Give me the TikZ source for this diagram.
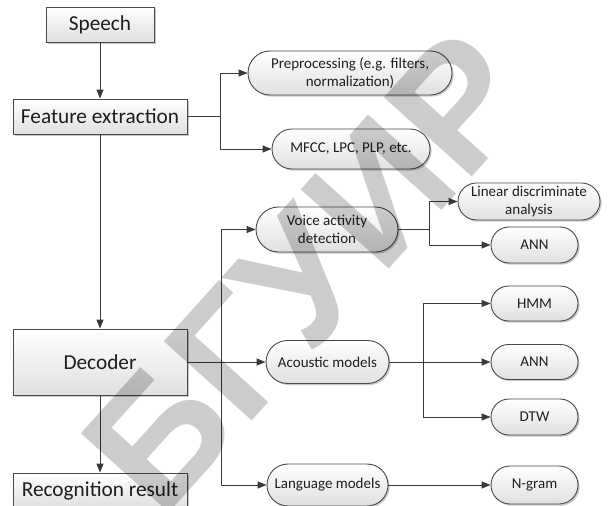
\documentclass[tikz,border=0pt]{standalone}
\usepackage{fontspec}
\setmainfont{Carlito}
\newfontfamily\stampfont{Liberation Sans}
\usetikzlibrary{arrows.meta,shadows,calc,shapes.misc}

\definecolor{edge}{HTML}{4A4A4A}
\definecolor{wire}{HTML}{3A3A3A}
\definecolor{ink}{HTML}{1E1E1E}
\definecolor{boxlow}{HTML}{E0E0E0}

\tikzset{
  softshadow/.style={drop shadow={shadow xshift=1.6pt, shadow yshift=-1.6pt, fill=black, opacity=0.22}},
  stage/.style={rectangle, draw=edge, line width=0.9pt, top color=white, bottom color=boxlow,
    text=ink, font=\fontsize{21.3}{25}\selectfont, inner sep=0pt, softshadow},
  pill/.style={rounded rectangle, rounded rectangle arc length=180, draw=edge, line width=0.9pt,
    top color=white, bottom color=boxlow, text=ink, font=\fontsize{15}{18}\selectfont,
    align=center, inner sep=0pt, softshadow},
  wire/.style={draw=wire, line width=1pt},
  wirearrow/.style={wire, -{Triangle[length=9pt,width=7pt]}},
}

\begin{document}
\begin{tikzpicture}[x=1pt, y=-1pt]
  \useasboundingbox (0,0) rectangle (614,506);
  \clip (0,0) rectangle (614,506);
  \fill[white] (0,0) rectangle (614,506);

  % main pipeline
  \node[stage, minimum width=108pt, minimum height=35pt] (speech) at (100,24.5) {Speech};
  \node[stage, minimum width=174pt, minimum height=35pt] (feat) at (100,116.5) {Feature extraction};
  \node[stage, minimum width=174pt, minimum height=66pt] (dec) at (100,362) {Decoder};
  \node[stage, minimum width=174pt, minimum height=35pt] (rec) at (100,490.5) {Recognition result};

  % feature extraction details
  \node[pill, minimum width=204pt, minimum height=44pt] (pre) at (350,73) {Preprocessing (e.g. filters,\\ normalization)};
  \node[pill, minimum width=158pt, minimum height=40pt] (mfcc) at (351,149) {MFCC, LPC, PLP, etc.};

  % decoder components
  \node[pill, minimum width=142pt, minimum height=45pt] (vad) at (327,229.5) {Voice activity\\ detection};
  \node[pill, minimum width=123pt, minimum height=43pt] (aco) at (327.5,362) {Acoustic models};
  \node[pill, minimum width=121pt, minimum height=42pt] (lang) at (327.5,485) {Language models};

  % methods
  \node[pill, minimum width=142pt, minimum height=37pt] (lda) at (529,201.5) {Linear discriminate\\ analysis};
  \node[pill, minimum width=87pt, minimum height=36pt] (ann1) at (534.5,245) {ANN};
  \node[pill, minimum width=87pt, minimum height=35pt] (hmm) at (534.5,303.5) {HMM};
  \node[pill, minimum width=87pt, minimum height=35pt] (ann2) at (534.5,362) {ANN};
  \node[pill, minimum width=87pt, minimum height=36pt] (dtw) at (534.5,417) {DTW};
  \node[pill, minimum width=87pt, minimum height=38pt] (ngram) at (534.5,485) {N-gram};

  % vertical flow
  \draw[wirearrow] (speech) -- (feat);
  \draw[wirearrow] (feat) -- (dec);
  \draw[wirearrow] (dec) -- (rec);

  % feature extraction branch
  \coordinate (fj) at ($(feat.east)+(33,0)$);
  \draw[wire] (feat.east) -- (fj);
  \draw[wirearrow] (fj) |- (pre.west);
  \draw[wirearrow] (fj) |- (mfcc.west);

  % decoder branch
  \coordinate (dj) at ($(dec.east)+(34,0)$);
  \draw[wirearrow] (dec.east) -- (aco.west);
  \draw[wirearrow] (dj) |- (vad.west);
  \draw[wirearrow] (dj) |- (lang.west);

  % voice activity detection branch
  \coordinate (vj) at ($(vad.east)+(31,0)$);
  \draw[wire] (vad.east) -- (vj);
  \draw[wirearrow] (vj) |- (lda.west);
  \draw[wirearrow] (vj) |- (ann1.west);

  % acoustic models branch
  \coordinate (aj) at ($(aco.east)+(34,0)$);
  \draw[wirearrow] (aco.east) -- (ann2.west);
  \draw[wirearrow] (aj) |- (hmm.west);
  \draw[wirearrow] (aj) |- (dtw.west);

  % language models
  \draw[wirearrow] (lang.east) -- (ngram.west);

  % library stamp
  \node[rotate=48, text=black, text opacity=0.2,
        font=\stampfont\bfseries\fontsize{172}{172}\selectfont] (stamp) at (308,272) {БГУИР};
\end{tikzpicture}
\end{document}
